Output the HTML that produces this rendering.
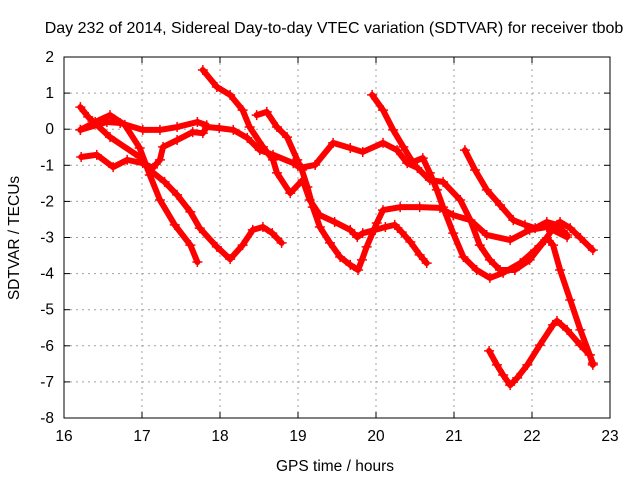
<!DOCTYPE html>
<html><head><meta charset="utf-8"><style>
body{margin:0;background:#fff}
svg text{font-family:"Liberation Sans",sans-serif;font-size:15.5px;fill:#000}
</style></head><body>
<svg id="chart" width="640" height="480" viewBox="0 0 640 480">
<rect width="640" height="480" fill="#fff"/>
<text x="334" y="33" text-anchor="middle" style="font-size:16px">Day 232 of 2014, Sidereal Day-to-day VTEC variation (SDTVAR) for receiver tbob</text>
<text x="335" y="471" text-anchor="middle">GPS time / hours</text>
<text transform="translate(19,238) rotate(-90)" text-anchor="middle">SDTVAR / TECUs</text>
<g id="grid"></g><g id="ticks"></g><g id="series"></g>
<rect x="64" y="57" width="546" height="361" fill="none" stroke="#000" stroke-width="1"/>
</svg>
<script>
const xTicks=[16,17,18,19,20,21,22,23];
const yTicks=[2,1,0,-1,-2,-3,-4,-5,-6,-7,-8];
const s1x=[16.21,16.31,16.59,16.97,17.10,17.29,17.45,17.62,17.74,17.96,18.13,18.29,18.42,18.55,18.67,18.79];
const s1y=[0.61,0.34,-0.22,-0.77,-1.13,-1.46,-1.82,-2.29,-2.74,-3.26,-3.60,-3.21,-2.79,-2.71,-2.88,-3.15];
const s2x=[16.21,16.40,16.59,16.78,16.97,17.10,17.23,17.42,17.62,17.71];
const s2y=[-0.02,0.20,0.39,0.12,-0.52,-1.27,-1.96,-2.65,-3.21,-3.68];
const s3x=[16.22,16.42,16.63,16.81,17.01,17.14,17.23,17.27,17.45,17.65,17.78,17.83,17.99,18.17,18.35,18.51,18.68,18.94,19.03];
const s3y=[-0.77,-0.71,-1.05,-0.85,-0.94,-1.07,-0.85,-0.49,-0.30,-0.08,-0.11,0.06,0.03,-0.02,-0.24,-0.58,-0.71,-0.94,-1.0];
const s4x=[16.21,16.55,16.72,17.01,17.23,17.45,17.71,17.83];
const s4y=[-0.02,0.20,0.17,-0.02,-0.02,0.06,0.20,0.11];
const s5x=[18.94,19.03,19.22,19.45,19.67,19.83,20.09,20.27,20.40,20.53,20.69,20.86,21.08,21.21,21.33,21.46,21.59,21.78,21.97,22.17,22.27,22.36,22.49,22.62,22.78];
const s5y=[-0.94,-1.07,-0.99,-0.38,-0.52,-0.63,-0.38,-0.58,-0.94,-1.07,-1.41,-1.46,-1.96,-2.52,-3.21,-3.62,-3.90,-3.90,-3.62,-3.07,-2.74,-2.57,-2.74,-3.01,-3.35];
const s6x=[17.78,17.96,18.13,18.29,18.38,18.55,18.68,18.73,18.90,19.06,19.15,19.28,19.47,19.67,19.76,19.83,19.99,20.12,20.24,20.33,20.44,20.56,20.65];
const s6y=[1.64,1.17,0.95,0.53,0.06,-0.49,-0.85,-1.21,-1.77,-1.41,-1.96,-2.38,-2.57,-2.79,-2.99,-2.88,-2.79,-2.71,-2.65,-2.85,-3.12,-3.48,-3.71];
const s7x=[18.47,18.60,18.73,18.86,18.99,19.05,19.12,19.19,19.28,19.41,19.54,19.67,19.77,19.82,19.88,20.01,20.09,20.31,20.56,20.82,20.99,21.21,21.42,21.72,21.97,22.19,22.45];
const s7y=[0.39,0.48,0.06,-0.22,-0.85,-1.13,-1.60,-2.16,-2.71,-3.15,-3.54,-3.76,-3.90,-3.62,-3.26,-2.60,-2.24,-2.16,-2.16,-2.18,-2.38,-2.52,-2.93,-3.07,-2.79,-2.71,-2.99];
const s8x=[19.95,20.09,20.22,20.35,20.47,20.60,20.69,20.78,20.86,20.99,21.12,21.29,21.46,21.63,21.85,22.04,22.19,22.27,22.36,22.49,22.62,22.74,22.78];
const s8y=[0.95,0.53,-0.02,-0.49,-0.91,-0.80,-1.21,-1.68,-2.16,-2.88,-3.54,-3.90,-4.12,-3.98,-3.71,-3.35,-3.01,-3.21,-3.90,-4.73,-5.56,-6.25,-6.53];
const s9x=[21.14,21.27,21.42,21.59,21.76,21.91,22.04,22.19,22.32,22.45];
const s9y=[-0.58,-1.13,-1.68,-2.10,-2.52,-2.65,-2.74,-2.57,-2.65,-2.93];
const s10x=[21.45,21.55,21.63,21.72,21.81,21.94,22.10,22.27,22.32,22.45,22.62,22.74,22.78];
const s10y=[-6.14,-6.53,-6.81,-7.09,-6.89,-6.53,-5.98,-5.42,-5.31,-5.56,-5.98,-6.25,-6.48];
const seriesX=[s1x,s2x,s3x,s4x,s5x,s6x,s7x,s8x,s9x,s10x];
const seriesY=[s1y,s2y,s3y,s4y,s5y,s6y,s7y,s8y,s9y,s10y];
const X0=64,X1=610,Y0=418,Y1=57;
const sx=v=>X0+(v-16)/(23-16)*(X1-X0);
const sy=v=>Y0-(v+8)/(2+8)*(Y0-Y1);
const NS='http://www.w3.org/2000/svg';
const mk=(t,a,p)=>{const e=document.createElementNS(NS,t);for(const k in a)e.setAttribute(k,a[k]);p.appendChild(e);return e;};
const grid=document.getElementById('grid'),ticks=document.getElementById('ticks'),ser=document.getElementById('series');
xTicks.forEach(t=>{const x=sx(t);
 if(t>16&&t<23){const g=mk('line',{x1:x,x2:x,y1:Y1,y2:Y0,stroke:'#a0a0a0','stroke-dasharray':'2,4'},grid);
 
 }
 mk('line',{x1:x,x2:x,y1:Y0,y2:Y0-6,stroke:'#000'},ticks);mk('line',{x1:x,x2:x,y1:Y1,y2:Y1+6,stroke:'#000'},ticks);
 const l=mk('text',{x:x,y:Y0+23,'text-anchor':'middle'},ticks);l.textContent=t;
 
 });
yTicks.forEach(t=>{const y=sy(t);
 if(t<2&&t>-8){const g=mk('line',{x1:X0,x2:X1,y1:y,y2:y,stroke:'#a0a0a0','stroke-dasharray':'2,4'},grid);
 
 }
 mk('line',{x1:X0,x2:X0+6,y1:y,y2:y,stroke:'#000'},ticks);mk('line',{x1:X1,x2:X1-6,y1:y,y2:y,stroke:'#000'},ticks);
 const l=mk('text',{x:X0-10,y:y+5,'text-anchor':'end'},ticks);l.textContent=t;
 
 });
seriesX.forEach((xs,i)=>{const ys=seriesY[i];
 const g=mk('g',{},ser);
 
 
 mk('polyline',{points:xs.map((x,j)=>sx(x)+','+sy(ys[j])).join(' '),fill:'none',stroke:'#ff0000','stroke-width':6,'stroke-linejoin':'round','stroke-linecap':'round'},g);
 xs.forEach((x,j)=>{const px=sx(x),py=sy(ys[j]);
  mk('path',{d:`M${px-5},${py}H${px+5}M${px},${py-5}V${py+5}`,stroke:'#ff0000','stroke-width':1.5},g);});
});
</script>
</body></html>
